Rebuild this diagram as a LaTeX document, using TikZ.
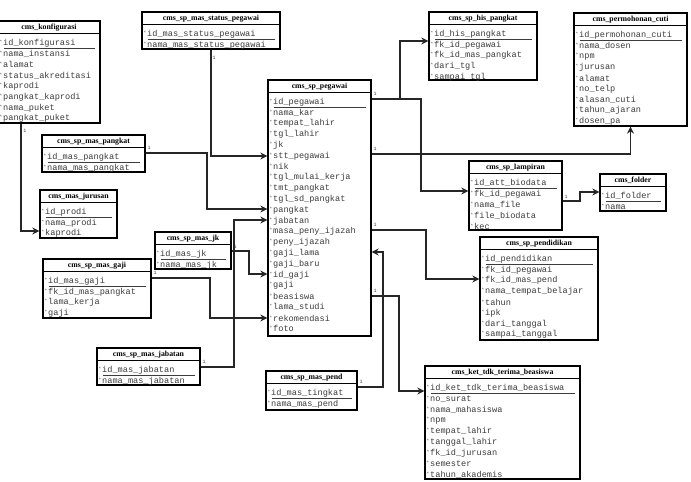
\documentclass[tikz,border=0pt]{standalone}
\usepackage{fontspec}
\setmainfont{Liberation Serif}
\newfontfamily\monof{Liberation Mono}
\usetikzlibrary{fit,arrows.meta}
\definecolor{rowgray}{HTML}{3C3C3C}
\definecolor{linegray}{HTML}{262626}
\tikzset{
  erbox/.style={draw=black, line width=1.3pt, inner sep=0pt},
  ertitle/.style={inner sep=0pt, font=\fontsize{7.8}{9}\selectfont\bfseries},
  errow/.style={anchor=west, inner sep=0pt, text=rowgray, font=\monof\fontsize{8.6}{10}\selectfont},
  sepline/.style={draw=black, line width=1pt},
  pkline/.style={draw=rowgray, line width=0.6pt},
  conn/.style={draw=linegray, line width=1.3pt, -{Stealth[length=7pt,width=7pt]}},
  onelbl/.style={inner sep=0pt, text=rowgray, font=\monof\fontsize{5}{6}\selectfont}
}
\newcommand{\ermark}{\raisebox{2pt}{\fontsize{4.5}{5}\selectfont *}\hspace{0.8pt}}
\newcommand{\ertable}[7]{%
  \coordinate (#1-nw) at (#2,#3);
  \coordinate (#1-se) at (#4,#5);
  \node[erbox, fit=(#1-nw)(#1-se)] (#1) {};
  \pgfmathsetmacro\ertb{#3+12.5}
  \node[ertitle] (#1-t) at ({(#2+#4)/2},{#3+6.5}) {#6};
  \draw[sepline] (#2,\ertb) -- (#4,\ertb);
  \foreach \rowtxt [count=\ri] in {#7} {
    \pgfmathsetmacro\ery{\ertb+9.5+(\ri-1)*10.8}
    \node[errow] (#1-r\ri) at (#2+1.5,\ery) {\ermark\rowtxt};
  }
  \draw[pkline] (#2+6,\ertb+14.3) -- (#4-5,\ertb+14.3);
}
\begin{document}
\begin{tikzpicture}[x=1pt,y=-1pt]
\useasboundingbox[fill=white] (0,0) rectangle (691,482);

\ertable{konf}{-2}{21}{100}{123}{cms\_konfigurasi}{id\_konfigurasi,nama\_instansi,alamat,status\_akreditasi,kaprodi,pangkat\_kaprodi,nama\_puket,pangkat\_puket}
\ertable{stat}{142}{12}{280}{49}{cms\_sp\_mas\_status\_pegawai}{id\_mas\_status\_pegawai,nama\_mas\_status\_pegawai}
\ertable{pang}{42}{135}{145}{172}{cms\_sp\_mas\_pangkat}{id\_mas\_pangkat,nama\_mas\_pangkat}
\ertable{jur}{40}{190}{117}{238}{cms\_mas\_jurusan}{id\_prodi,nama\_prodi,kaprodi}
\ertable{jk}{155}{232}{231}{269}{cms\_sp\_mas\_jk}{id\_mas\_jk,nama\_mas\_jk}
\ertable{gaji}{43}{259}{151}{318}{cms\_sp\_mas\_gaji}{id\_mas\_gaji,fk\_id\_mas\_pangkat,lama\_kerja,gaji}
\ertable{jab}{97}{348}{200}{385}{cms\_sp\_mas\_jabatan}{id\_mas\_jabatan,nama\_mas\_jabatan}
\ertable{peg}{268}{80}{371}{336}{cms\_sp\_pegawai}{id\_pegawai,nama\_kar,tempat\_lahir,tgl\_lahir,jk,stt\_pegawai,nik,tgl\_mulai\_kerja,tmt\_pangkat,tgl\_sd\_pangkat,pangkat,jabatan,masa\_peny\_ijazah,peny\_ijazah,gaji\_lama,gaji\_baru,id\_gaji,gaji,beasiswa,lama\_studi,rekomendasi,foto}
\ertable{his}{429}{12}{537}{80}{cms\_sp\_his\_pangkat}{id\_his\_pangkat,fk\_id\_pegawai,fk\_id\_mas\_pangkat,dari\_tgl,sampai\_tgl}
\ertable{cuti}{574}{13}{687}{126}{cms\_permohonan\_cuti}{id\_permohonan\_cuti,nama\_dosen,npm,jurusan,alamat,no\_telp,alasan\_cuti,tahun\_ajaran,dosen\_pa}
\ertable{lamp}{469}{161}{562}{230}{cms\_sp\_lampiran}{id\_att\_biodata,fk\_id\_pegawai,nama\_file,file\_biodata,kec}
\ertable{fold}{600}{174}{666}{211}{cms\_folder}{id\_folder,nama}
\ertable{pend}{480}{237}{598}{340}{cms\_sp\_pendidikan}{id\_pendidikan,fk\_id\_pegawai,fk\_id\_mas\_pend,nama\_tempat\_belajar,tahun,ipk,dari\_tanggal,sampai\_tanggal}
\ertable{beas}{425}{366}{580}{479}{cms\_ket\_tdk\_terima\_beasiswa}{id\_ket\_tdk\_terima\_beasiswa,no\_surat,nama\_mahasiswa,npm,tempat\_lahir,tanggal\_lahir,fk\_id\_jurusan,semester,tahun\_akademis}
\ertable{mpend}{266}{371}{357}{410}{cms\_sp\_mas\_pend}{id\_mas\_tingkat,nama\_mas\_pend}

% connectors
\draw[conn] (stat.south) |- (peg.west |- 0,156);
\draw[conn] (21,0 |- konf.south) |- (jur.west |- 0,231);
\draw[conn] (pang.east |- 0,153) -- (207,153) |- (peg.west |- 0,209);
\draw[conn] (jk.east |- 0,251) -- (249,251) |- (peg.west |- 0,274);
\draw[conn] (gaji.east |- 0,278) -- (210,278) |- (peg.west |- 0,318);
\draw[conn] (jab.east |- 0,367) -- (234,367) |- (peg.west |- 0,220);
\draw[conn] (peg.east |- 0,99) -- (400,99) |- (his.west |- 0,41);
\draw[conn] (peg.east |- 0,99) -- (421,99) |- (lamp.west |- 0,191);
\draw[conn] (peg.east |- 0,154) -| (cuti.south);
\draw[conn] (lamp.east |- 0,201) -- (580,201) |- (fold.west |- 0,192);
\draw[conn] (peg.east |- 0,230) -- (426,230) |- (pend.west |- 0,279);
\draw[conn] (mpend.east |- 0,387) -- (383,387) |- (peg.east |- 0,252);
\draw[conn] (peg.east |- 0,296) -- (399,296) |- (beas.west |- 0,391);

% cardinality labels
\node[onelbl] (lA) at (214,58) {1};
\node[onelbl] (lB) at (25,131) {1};
\node[onelbl] (lC) at (149,148) {1};
\node[onelbl] (lD) at (235,247) {1};
\node[onelbl] (lE) at (155,273) {1};
\node[onelbl] (lF) at (204,362) {1};
\node[onelbl] (lG) at (375,94) {1};
\node[onelbl] (lI) at (375,149) {1};
\node[onelbl] (lJ) at (566,197) {1};
\node[onelbl] (lK) at (375,225) {1};
\node[onelbl] (lL) at (361,382) {1};
\node[onelbl] (lM) at (375,291) {1};
\end{tikzpicture}
\end{document}
